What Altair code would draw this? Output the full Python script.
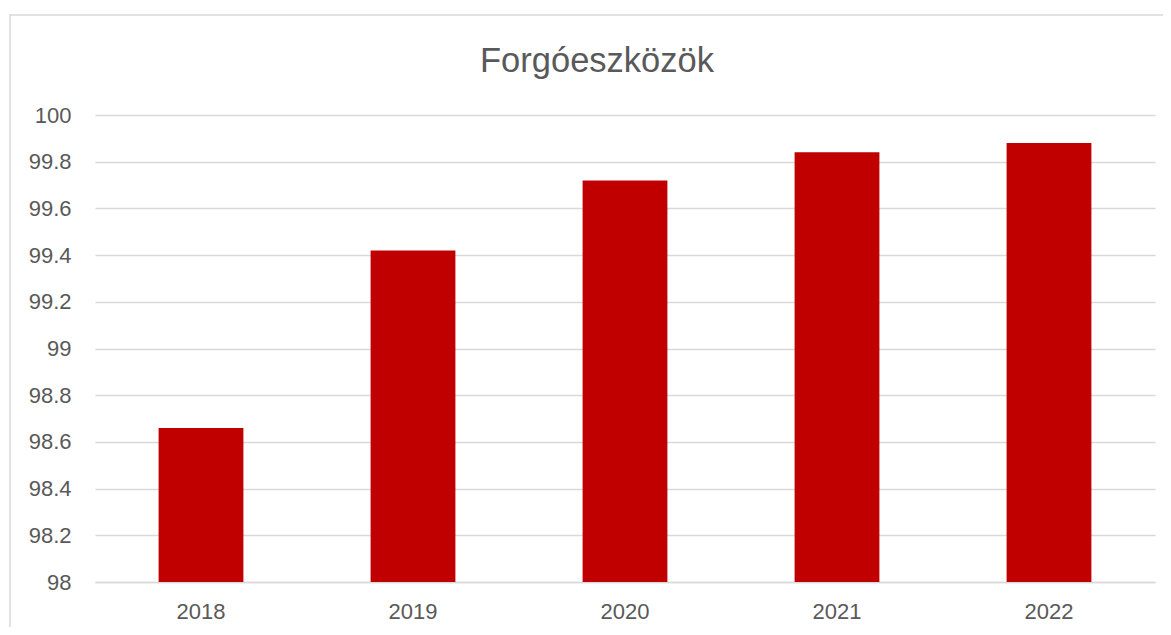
import altair as alt
import pandas as pd

years = ["2018", "2019", "2020", "2021", "2022"]
values = [98.66, 99.42, 99.72, 99.84, 99.88]
y_ticks = [98, 98.2, 98.4, 98.6, 98.8, 99, 99.2, 99.4, 99.6, 99.8, 100]
title_text = ["Forgóeszközök"]

df = pd.DataFrame({"year": years, "value": values})
tdf = pd.DataFrame({"t": title_text})

TEXT = "#595959"
GRID = "#d9d9d9"
FONT = "Liberation Sans"

bars = alt.Chart(df).mark_bar(color="#C00000", clip=True).encode(
    x=alt.X("year:N", title=None, sort=years,
            scale=alt.Scale(paddingInner=0.6, paddingOuter=0.3),
            axis=alt.Axis(labelAngle=0, labelFontSize=22, labelColor=TEXT, labelFont=FONT,
                          labelPadding=19, ticks=False, domain=True, domainColor=GRID,
                          domainWidth=1.5, grid=False)),
    y=alt.Y("value:Q", title=None,
            scale=alt.Scale(domain=[98, 100], zero=False, nice=False),
            axis=alt.Axis(values=y_ticks, labelFontSize=22, labelColor=TEXT, labelFont=FONT,
                          labelPadding=24, ticks=False, domain=False, grid=True,
                          gridColor=GRID, gridWidth=1.5, labelExpr="format(datum.value, '~g')")),
)

frame = alt.Chart(tdf).mark_rect(fillOpacity=0, stroke=GRID, strokeWidth=1.5, clip=False).encode(
    x=alt.value(-85), x2=alt.value(1075), y=alt.value(-100), y2=alt.value(540)
)

title = alt.Chart(tdf).mark_text(fontSize=34.5, font=FONT, color=TEXT, align="center",
                                 baseline="alphabetic").encode(
    text="t:N", x=alt.value(502), y=alt.value(-43)
)

chart = alt.layer(frame, bars, title).properties(
    width=1060,
    height=467,
    background="white",
    autosize=alt.AutoSizeParams(type="none"),
    padding={"left": 87, "top": 107, "right": 8, "bottom": 45},
).configure_view(strokeWidth=0, stroke=None)

chart.save("out.html", embed_options={"renderer": "svg", "actions": False})
